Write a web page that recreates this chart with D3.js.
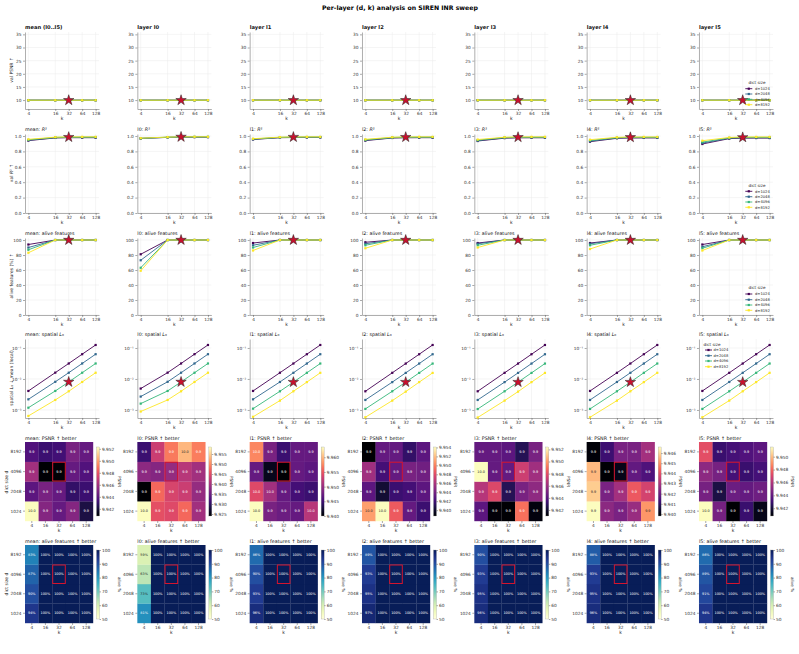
<!DOCTYPE html>
<html>
<head>
<meta charset="utf-8">
<script src="https://cdn.jsdelivr.net/npm/d3@7"></script>
<style>
  body { margin: 0; background: #fff; }
  svg { font-family: "DejaVu Sans", sans-serif; }
</style>
</head>
<body>
<div id="chart"></div>
<script>
// ---- data ----
const panelNames = ['mean', 'l0', 'l1', 'l2', 'l3', 'l4', 'l5']
const panelTitles = ['mean (l0..l5)', 'layer l0', 'layer l1', 'layer l2', 'layer l3', 'layer l4', 'layer l5']
const kValues = [4, 16, 32, 64, 128]
const dictSizes = [1024, 2048, 4096, 8192]
const seriesLabels = ['d=1024', 'd=2048', 'd=4096', 'd=8192']
const chosenK = 32
const chosenD = 4096

// PSNR, per panel: rows d=1024..8192, columns k=4..128
const psnrGrid = [
  [[9.9523, 9.9452, 9.9443, 9.9452, 9.9422], [9.9440, 9.9448, 9.9443, 9.9429, 9.9431], [9.9460, 9.9408, 9.9409, 9.9443, 9.9437], [9.9437, 9.9431, 9.9433, 9.9448, 9.9443]],
  [[9.9585, 9.9454, 9.9447, 9.9475, 9.9395], [9.9240, 9.9475, 9.9440, 9.9430, 9.9385], [9.9378, 9.9371, 9.9385, 9.9413, 9.9395], [9.9310, 9.9430, 9.9488, 9.9533, 9.9492]],
  [[9.9635, 9.9482, 9.9475, 9.9471, 9.9518], [9.9541, 9.9506, 9.9471, 9.9452, 9.9447], [9.9471, 9.9412, 9.9400, 9.9471, 9.9466], [9.9576, 9.9482, 9.9447, 9.9471, 9.9471]],
  [[9.9510, 9.9541, 9.9487, 9.9433, 9.9418], [9.9430, 9.9402, 9.9418, 9.9421, 9.9430], [9.9456, 9.9421, 9.9433, 9.9441, 9.9438], [9.9387, 9.9433, 9.9433, 9.9415, 9.9430]],
  [[9.9442, 9.9412, 9.9410, 9.9490, 9.9413], [9.9467, 9.9478, 9.9427, 9.9450, 9.9456], [9.9524, 9.9444, 9.9444, 9.9473, 9.9461], [9.9444, 9.9444, 9.9442, 9.9427, 9.9450]],
  [[9.9466, 9.9425, 9.9422, 9.9427, 9.9451], [9.9459, 9.9422, 9.9429, 9.9442, 9.9437], [9.9456, 9.9398, 9.9401, 9.9418, 9.9415], [9.9399, 9.9412, 9.9422, 9.9422, 9.9429]],
  [[9.9515, 9.9445, 9.9408, 9.9429, 9.9413], [9.9445, 9.9421, 9.9442, 9.9440, 9.9443], [9.9451, 9.9445, 9.9432, 9.9429, 9.9432], [9.9474, 9.9429, 9.9432, 9.9435, 9.9438]]
]
const psnrCbTicks = [
  [9.942, 9.944, 9.946, 9.948, 9.950, 9.952],
  [9.925, 9.930, 9.935, 9.940, 9.945, 9.950, 9.955],
  [9.940, 9.945, 9.950, 9.955, 9.960],
  [9.940, 9.942, 9.944, 9.946, 9.948, 9.950, 9.952, 9.954],
  [9.942, 9.944, 9.946, 9.948, 9.950, 9.952],
  [9.940, 9.941, 9.942, 9.943, 9.944, 9.945, 9.946],
  [9.942, 9.944, 9.946, 9.948, 9.950]
]

// val R^2, per panel: rows d=1024..8192, columns k
const r2Lines = [
  [[0.940, 0.975, 0.978, 0.978, 0.978], [0.945, 0.978, 0.981, 0.982, 0.982], [0.950, 0.982, 0.985, 0.986, 0.986], [0.957, 0.985, 0.988, 0.989, 0.989]],
  [[0.968, 0.982, 0.984, 0.985, 0.985], [0.969, 0.983, 0.986, 0.987, 0.987], [0.970, 0.985, 0.988, 0.989, 0.989], [0.972, 0.986, 0.989, 0.990, 0.990]],
  [[0.955, 0.978, 0.980, 0.981, 0.981], [0.958, 0.980, 0.983, 0.984, 0.984], [0.961, 0.983, 0.986, 0.987, 0.987], [0.965, 0.985, 0.988, 0.989, 0.989]],
  [[0.940, 0.974, 0.977, 0.978, 0.978], [0.945, 0.977, 0.981, 0.982, 0.982], [0.950, 0.981, 0.985, 0.986, 0.986], [0.957, 0.984, 0.988, 0.989, 0.989]],
  [[0.935, 0.972, 0.976, 0.977, 0.977], [0.940, 0.976, 0.980, 0.981, 0.981], [0.946, 0.980, 0.984, 0.985, 0.985], [0.954, 0.984, 0.988, 0.989, 0.989]],
  [[0.926, 0.970, 0.974, 0.975, 0.975], [0.933, 0.974, 0.979, 0.980, 0.980], [0.941, 0.979, 0.983, 0.984, 0.984], [0.952, 0.983, 0.987, 0.988, 0.988]],
  [[0.896, 0.966, 0.972, 0.973, 0.973], [0.908, 0.971, 0.977, 0.978, 0.978], [0.921, 0.976, 0.982, 0.983, 0.983], [0.939, 0.981, 0.987, 0.988, 0.988]]
]

// alive features (%), per panel: rows d=1024..8192, columns k
const aliveGrid = [
  [[94, 100, 100, 100, 100], [90, 100, 100, 100, 100], [87, 100, 100, 100, 100], [83, 100, 100, 100, 100]],
  [[81, 100, 100, 100, 100], [73, 100, 100, 100, 100], [63, 100, 100, 100, 100], [59, 100, 100, 100, 100]],
  [[96, 100, 100, 100, 100], [93, 100, 100, 100, 100], [90, 100, 100, 100, 100], [86, 100, 100, 100, 100]],
  [[97, 100, 100, 100, 100], [95, 100, 100, 100, 100], [93, 100, 100, 100, 100], [89, 100, 100, 100, 100]],
  [[96, 100, 100, 100, 100], [95, 100, 100, 100, 100], [93, 100, 100, 100, 100], [90, 100, 100, 100, 100]],
  [[96, 100, 100, 100, 100], [95, 100, 100, 100, 100], [93, 100, 100, 100, 100], [88, 100, 100, 100, 100]],
  [[94, 100, 100, 100, 100], [91, 100, 100, 100, 100], [89, 100, 100, 100, 100], [86, 100, 100, 100, 100]]
]

// spatial L0 (fraction), per panel: rows d=1024..8192, columns k
const l0Lines = [
  [[0.0041, 0.0160, 0.0316, 0.0630, 0.1250], [0.0022, 0.0081, 0.0159, 0.0316, 0.0630], [0.00118, 0.0041, 0.0080, 0.0159, 0.0316], [0.00064, 0.0021, 0.0040, 0.0080, 0.0159]],
  [[0.0049, 0.0160, 0.0316, 0.0630, 0.1250], [0.0027, 0.0081, 0.0159, 0.0316, 0.0630], [0.0016, 0.0041, 0.0080, 0.0159, 0.0316], [0.00089, 0.0021, 0.0040, 0.0080, 0.0159]],
  [[0.0041, 0.0159, 0.0315, 0.0629, 0.1250], [0.0022, 0.0080, 0.0158, 0.0315, 0.0629], [0.00110, 0.0040, 0.0079, 0.0158, 0.0315], [0.00060, 0.0020, 0.0040, 0.0079, 0.0158]],
  [[0.0040, 0.0158, 0.0314, 0.0628, 0.1250], [0.0021, 0.0079, 0.0157, 0.0314, 0.0628], [0.00108, 0.0040, 0.0079, 0.0157, 0.0314], [0.00058, 0.0020, 0.0039, 0.0079, 0.0157]],
  [[0.0040, 0.0158, 0.0314, 0.0628, 0.1250], [0.0021, 0.0079, 0.0157, 0.0314, 0.0628], [0.00107, 0.0040, 0.0079, 0.0157, 0.0314], [0.00057, 0.0020, 0.0039, 0.0079, 0.0157]],
  [[0.0041, 0.0158, 0.0315, 0.0629, 0.1250], [0.0021, 0.0080, 0.0158, 0.0315, 0.0629], [0.00108, 0.0040, 0.0079, 0.0158, 0.0315], [0.00058, 0.0020, 0.0040, 0.0079, 0.0158]],
  [[0.0041, 0.0158, 0.0315, 0.0629, 0.1250], [0.0021, 0.0080, 0.0158, 0.0315, 0.0629], [0.00108, 0.0040, 0.0079, 0.0158, 0.0315], [0.00058, 0.0020, 0.0040, 0.0079, 0.0158]]
]

const psnrYTicks = [10, 15, 20, 25, 30, 35]
const r2YTicks = [0, 0.2, 0.4, 0.6, 0.8, 1.0]
const aliveYTicks = [0, 20, 40, 60, 80, 100]
const l0YTicks = [0.001, 0.01, 0.1]
const aliveCbTicks = [50, 60, 70, 80, 90, 100]

// ---- layout ----
const W = 799
const H = 654
const colLeft = i => 25 + i * 112.33
const panelW = 74
const heatW = 68
const lineRows = [
  { top: 32, bottom: 109 },
  { top: 134, bottom: 213 },
  { top: 238, bottom: 315 },
  { top: 339, bottom: 418 }
]
const heatRows = [
  { top: 442, bottom: 521, cbTop: 447, cbBottom: 516 },
  { top: 545, bottom: 623, cbTop: 550, cbBottom: 619 }
]
const seriesColor = i => d3.interpolateViridis(i / 3)
const starColor = '#c8102e'
const tickFont = 4.3

const svg = d3.select('#chart').append('svg')
  .attr('width', W)
  .attr('height', H)

svg.append('rect').attr('width', W).attr('height', H).attr('fill', '#fff')

svg.append('text')
  .attr('x', 400)
  .attr('y', 10)
  .attr('text-anchor', 'middle')
  .attr('font-weight', 'bold')
  .attr('font-size', 6.2)
  .text('Per-layer (d, k) analysis on SIREN INR sweep')

const x = d3.scaleLog().base(2)
  .domain([Math.pow(2, 1.75), Math.pow(2, 7.25)])
  .range([0, panelW])

function styleAxis (sel) {
  sel.select('.domain').attr('stroke', '#9a9a9a').attr('stroke-width', 0.8)
  sel.selectAll('.tick line').attr('stroke', '#555').attr('stroke-width', 0.5)
  sel.selectAll('.tick text').attr('font-size', tickFont).attr('fill', '#333')
    .attr('font-family', '"DejaVu Sans", sans-serif')
}

function addTitle (g, text, y, bold) {
  const t = g.append('text')
    .attr('x', 0)
    .attr('y', y)
    .attr('font-size', bold ? 5.2 : 4.8)
    .attr('font-weight', bold ? 'bold' : 'normal')
    .attr('fill', '#111')
  if (Array.isArray(text)) {
    text.forEach(part => {
      const s = t.append('tspan').text(part.t)
      if (part.i) s.attr('font-style', 'italic')
    })
  } else {
    t.text(text)
  }
}

function linePanel (col, row, data, y, yTicks, yFmt, title, bold, starVal) {
  const left = colLeft(col)
  const top = lineRows[row].top
  const h = lineRows[row].bottom - top
  y.range([h, 0])
  const g = svg.append('g').attr('transform', 'translate(' + left + ',' + top + ')')

  // grid
  g.selectAll('.gx').data(kValues).enter().append('line')
    .attr('x1', d => x(d)).attr('x2', d => x(d))
    .attr('y1', 0).attr('y2', h)
    .attr('stroke', '#ebebeb').attr('stroke-width', 0.5)
  g.selectAll('.gy').data(yTicks).enter().append('line')
    .attr('x1', 0).attr('x2', panelW)
    .attr('y1', d => y(d)).attr('y2', d => y(d))
    .attr('stroke', '#ebebeb').attr('stroke-width', 0.5)

  const xAxis = d3.axisBottom(x).tickValues(kValues).tickFormat(d3.format('d'))
    .tickSize(2).tickSizeOuter(0).tickPadding(1)
  g.append('g').attr('transform', 'translate(0,' + h + ')').call(xAxis).call(styleAxis)
  const yAxis = d3.axisLeft(y).tickValues(yTicks).tickFormat(yFmt)
    .tickSize(2).tickSizeOuter(0).tickPadding(1.5)
  g.append('g').call(yAxis).call(styleAxis)

  g.append('text')
    .attr('x', panelW / 2).attr('y', h + 11)
    .attr('text-anchor', 'middle').attr('font-size', tickFont + 0.3).attr('fill', '#222')
    .text('k')

  const line = d3.line().x((d, j) => x(kValues[j])).y(d => y(d))
  data.forEach((vals, i) => {
    g.append('path')
      .attr('d', line(vals))
      .attr('fill', 'none')
      .attr('stroke', seriesColor(i))
      .attr('stroke-width', 0.9)
    g.selectAll('.m' + i).data(vals).enter().append('rect')
      .attr('x', (d, j) => x(kValues[j]) - 1.1)
      .attr('y', d => y(d) - 1.1)
      .attr('width', 2.2).attr('height', 2.2)
      .attr('fill', seriesColor(i))
  })

  g.append('path')
    .attr('d', d3.symbol(d3.symbolStar).size(34)())
    .attr('transform', 'translate(' + x(chosenK) + ',' + y(starVal) + ')')
    .attr('fill', starColor)
    .attr('stroke', '#222')
    .attr('stroke-width', 0.5)

  addTitle(g, title, -3, bold)
  return g
}

function yLabel (text, cx, cy) {
  const t = svg.append('text')
    .attr('transform', 'translate(' + cx + ',' + cy + ') rotate(-90)')
    .attr('text-anchor', 'middle')
    .attr('font-size', 4.5)
    .attr('fill', '#222')
  if (Array.isArray(text)) {
    text.forEach(part => {
      const s = t.append('tspan').text(part.t)
      if (part.i) s.attr('font-style', 'italic')
    })
  } else {
    t.text(text)
  }
}

function legend (col, row, ys, titleY, lineX0, textX, titleX) {
  const g = svg.append('g')
  g.append('text')
    .attr('x', titleX).attr('y', titleY + 1.4)
    .attr('text-anchor', 'middle').attr('font-size', 4.1).attr('fill', '#222')
    .text('dict size')
  seriesLabels.forEach((lab, i) => {
    g.append('line')
      .attr('x1', lineX0).attr('x2', lineX0 + 7)
      .attr('y1', ys[i]).attr('y2', ys[i])
      .attr('stroke', seriesColor(i)).attr('stroke-width', 0.9)
    g.append('rect')
      .attr('x', lineX0 + 3.5 - 1.1).attr('y', ys[i] - 1.1)
      .attr('width', 2.2).attr('height', 2.2)
      .attr('fill', seriesColor(i))
    g.append('text')
      .attr('x', textX).attr('y', ys[i] + 1.3)
      .attr('font-size', 3.7).attr('fill', '#222')
      .text(lab)
  })
}

// ---- rows 1-4: line panels ----
const dIdx = dictSizes.indexOf(chosenD)
const kIdx = kValues.indexOf(chosenK)

panelNames.forEach((name, c) => {
  linePanel(c, 0, psnrGrid[c], d3.scaleLinear().domain([6.6, 35.9]), psnrYTicks, d3.format('d'),
    panelTitles[c], true, psnrGrid[c][dIdx][kIdx])
  linePanel(c, 1, r2Lines[c], d3.scaleLinear().domain([0, 1.026]), r2YTicks, d3.format('.1f'),
    [{ t: name + ': ' }, { t: 'R', i: true }, { t: '²' }], false, r2Lines[c][dIdx][kIdx])
  linePanel(c, 2, aliveGrid[c], d3.scaleLinear().domain([0, 102.7]), aliveYTicks, d3.format('d'),
    name + ': alive features', false, aliveGrid[c][dIdx][kIdx])
  linePanel(c, 3, l0Lines[c], d3.scaleLog().domain([Math.pow(10, -3.26), Math.pow(10, -0.71)]), l0YTicks,
    d => '10' + { '-3': '⁻³', '-2': '⁻²', '-1': '⁻¹' }[Math.round(Math.log10(d))],
    [{ t: name + ': spatial ' }, { t: 'L', i: true }, { t: '₀' }], false, l0Lines[c][dIdx][kIdx])
})

yLabel('val PSNR  ↑', 13, 70)
yLabel([{ t: 'val ' }, { t: 'R', i: true }, { t: '²  ↑' }], 13, 173)
yLabel('alive features (%)  ↑', 13, 276)
yLabel([{ t: 'spatial ' }, { t: 'L', i: true }, { t: '₀  ↓ mean (local)' }], 13, 378)

legend(6, 0, [88.7, 94, 99.3, 104.7], 82.7, 745.3, 755, 757)
legend(6, 1, [191.3, 196.7, 202, 207.3], 186, 745.3, 755, 757)
legend(6, 2, [294, 299.7, 305, 310.3], 287.3, 745.3, 755, 757)
legend(6, 3, [350, 355.7, 361, 366.7], 345, 705, 713.5, 712)

// ---- rows 5-6: heatmaps ----
function luminance (c) {
  const rgb = d3.rgb(c)
  const f = v => {
    v = v / 255
    return v <= 0.03928 ? v / 12.92 : Math.pow((v + 0.055) / 1.055, 2.4)
  }
  return 0.2126 * f(rgb.r) + 0.7152 * f(rgb.g) + 0.0722 * f(rgb.b)
}

let gradId = 0
function heatPanel (col, row, grid, color, cbTicks, cbFmt, cellFmt, title, cbLabel) {
  const left = colLeft(col)
  const hr = heatRows[row]
  const h = hr.bottom - hr.top
  const g = svg.append('g').attr('transform', 'translate(' + left + ',' + hr.top + ')')
  const xb = d3.scaleBand().domain(kValues).range([0, heatW])
  const yb = d3.scaleBand().domain(dictSizes.slice().reverse()).range([0, h])

  const cells = []
  grid.forEach((vals, i) => vals.forEach((v, j) => cells.push({ d: dictSizes[i], k: kValues[j], v })))

  g.selectAll('.cell').data(cells).enter().append('rect')
    .attr('x', d => xb(d.k)).attr('y', d => yb(d.d))
    .attr('width', xb.bandwidth() + 0.2).attr('height', yb.bandwidth() + 0.2)
    .attr('fill', d => color(d.v))
  g.selectAll('.lab').data(cells).enter().append('text')
    .attr('x', d => xb(d.k) + xb.bandwidth() / 2)
    .attr('y', d => yb(d.d) + yb.bandwidth() / 2 + 1.2)
    .attr('text-anchor', 'middle')
    .attr('font-size', 3.4)
    .attr('fill', d => luminance(color(d.v)) > 0.408 ? '#262626' : '#fff')
    .text(d => cellFmt(d.v))

  // chosen config
  g.append('rect')
    .attr('x', xb(chosenK) + 0.5).attr('y', yb(chosenD) + 0.5)
    .attr('width', xb.bandwidth() - 1).attr('height', yb.bandwidth() - 1)
    .attr('fill', 'none').attr('stroke', '#d4142e').attr('stroke-width', 1)

  const xAxis = d3.axisBottom(xb).tickSize(2).tickPadding(1).tickSizeOuter(0)
  g.append('g').attr('transform', 'translate(0,' + h + ')').call(xAxis).call(styleAxis)
    .select('.domain').remove()
  const yAxis = d3.axisLeft(yb).tickSize(2).tickPadding(1.5).tickSizeOuter(0)
  g.append('g').call(yAxis).call(styleAxis)
    .select('.domain').remove()
  g.append('text')
    .attr('x', heatW / 2).attr('y', h + 11)
    .attr('text-anchor', 'middle').attr('font-size', tickFont + 0.3).attr('fill', '#222')
    .text('k')

  addTitle(g, title, -1.8, false)

  // colorbar
  const cbX = 71.5
  const cbW = 3
  const [lo, hi] = color.domain()
  const cbY = d3.scaleLinear().domain([lo, hi]).range([hr.cbBottom - hr.top, hr.cbTop - hr.top])
  const id = 'cb' + (gradId++)
  const grad = svg.append('defs').append('linearGradient')
    .attr('id', id).attr('x1', 0).attr('x2', 0).attr('y1', 1).attr('y2', 0)
  d3.range(0, 1.0001, 0.05).forEach(t => {
    grad.append('stop').attr('offset', t).attr('stop-color', color(lo + t * (hi - lo)))
  })
  g.append('rect')
    .attr('x', cbX).attr('y', hr.cbTop - hr.top)
    .attr('width', cbW).attr('height', hr.cbBottom - hr.cbTop)
    .attr('fill', 'url(#' + id + ')')
    .attr('stroke', '#999').attr('stroke-width', 0.3)
  const cbAxis = d3.axisRight(cbY).tickValues(cbTicks).tickFormat(cbFmt)
    .tickSize(1.5).tickPadding(1).tickSizeOuter(0)
  g.append('g').attr('transform', 'translate(' + (cbX + cbW) + ',0)').call(cbAxis).call(styleAxis)
    .select('.domain').remove()
  g.append('text')
    .attr('transform', 'translate(' + 92.5 + ',' + ((hr.cbTop + hr.cbBottom) / 2 - hr.top) + ') rotate(90)')
    .attr('text-anchor', 'middle')
    .attr('font-size', 4.2)
    .attr('fill', '#222')
    .text(cbLabel)
}

panelNames.forEach((name, c) => {
  const ext = d3.extent(psnrGrid[c].flat())
  heatPanel(c, 0, psnrGrid[c], d3.scaleSequential(d3.interpolateMagma).domain(ext),
    psnrCbTicks[c], d3.format('.3f'), v => v.toFixed(1), name + ': PSNR  ↑ better', 'PSNR')
  heatPanel(c, 1, aliveGrid[c], d3.scaleSequential(d3.interpolateYlGnBu).domain([50, 100]),
    aliveCbTicks, d3.format('d'), v => Math.round(v) + '%', name + ': alive features  ↑ better', 'alive %')
})

yLabel('dict size  d', 7.5, 482)
yLabel('dict size  d', 7.5, 584)
</script>
</body>
</html>
